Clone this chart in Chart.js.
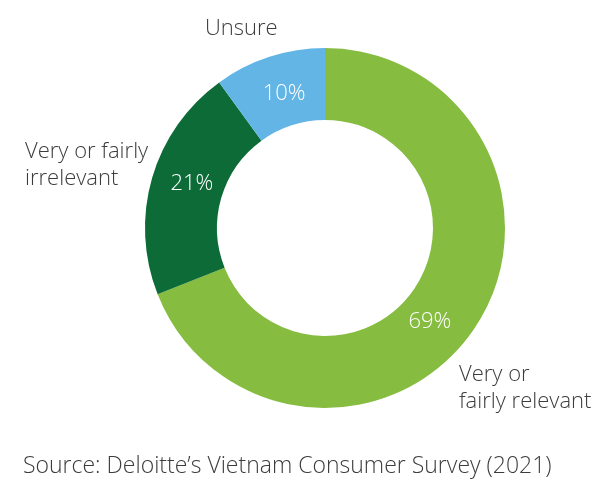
<!DOCTYPE html>
<html>
<head>
<meta charset="utf-8">
<script src="https://cdn.jsdelivr.net/npm/chart.js@4/dist/chart.umd.min.js"></script>
<style>
html,body{margin:0;padding:0;background:#fff;}
#wrap{width:600px;height:480px;position:relative;}
</style>
</head>
<body>
<div id="wrap"><canvas id="c" width="600" height="480"></canvas></div>
<script>
const categories = ["Very or fairly relevant", "Very or fairly irrelevant", "Unsure"];
const values = [69, 21, 10];
const valueLabels = ["69%", "21%", "10%"];
const outerLabels = [["Very or", "fairly relevant"], ["Very or fairly", "irrelevant"], ["Unsure"]];
const colors = ["#86BC40", "#0D6B37", "#62B5E5"];
const sourceText = "Source: Deloitte\u2019s Vietnam Consumer Survey (2021)";

const FONT = "'Open Sans', sans-serif";
const TEXT = "#3c3c3c";

// outer label anchors relative to chart center (style, not data)
const outerPos = [
  {dx: 134, dy: 153, align: "left"},
  {dx: -300, dy: -70, align: "left"},
  {dx: -120, dy: -193, align: "left"}
];

const labelsPlugin = {
  id: "labels",
  afterDraw(chart) {
    const ctx = chart.ctx;
    const meta = chart.getDatasetMeta(0);
    ctx.save();
    ctx.font = "300 22px " + FONT;
    ctx.textBaseline = "middle";
    ctx.textAlign = "center";
    ctx.fillStyle = "#ffffff";
    meta.data.forEach((arc, i) => {
      const p = arc.getProps(["x","y","startAngle","endAngle","innerRadius","outerRadius"], true);
      const a = p.startAngle + (p.endAngle - p.startAngle) * 0.53;
      const r = p.innerRadius + (p.outerRadius - p.innerRadius) * 0.45;
      ctx.fillText(valueLabels[i], p.x + Math.cos(a) * r, p.y + Math.sin(a) * r);
    });
    const cx = meta.data[0].x, cy = meta.data[0].y;
    ctx.fillStyle = TEXT;
    ctx.textBaseline = "alphabetic";
    outerLabels.forEach((lines, i) => {
      const o = outerPos[i];
      ctx.textAlign = o.align;
      lines.forEach((ln, j) => {
        ctx.fillText(ln, cx + o.dx, cy + o.dy + j * 27);
      });
    });
    ctx.textAlign = "left";
    ctx.font = "300 23px " + FONT;
    ctx.fillText(sourceText, 23, 473);
    ctx.restore();
  }
};

new Chart(document.getElementById("c"), {
  type: "doughnut",
  data: {
    labels: categories,
    datasets: [{
      data: values,
      backgroundColor: colors,
      borderWidth: 0,
      hoverOffset: 0
    }]
  },
  options: {
    responsive: false,
    animation: false,
    cutout: "60%",
    layout: { padding: { left: 145, right: 95, top: 48, bottom: 72 } },
    plugins: { legend: { display: false }, tooltip: { enabled: false } }
  },
  plugins: [labelsPlugin]
});
</script>
</body>
</html>
